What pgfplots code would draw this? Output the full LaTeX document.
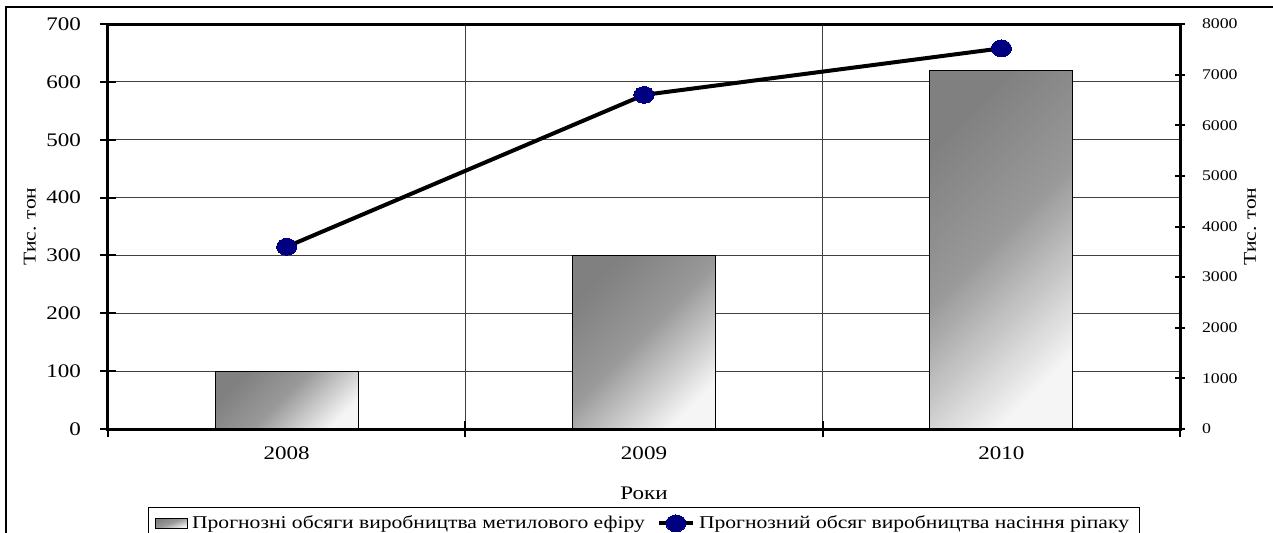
\documentclass[border=0pt]{standalone}
\usepackage{fontspec}
\setmainfont{Liberation Serif}[FakeStretch=1.2]
\usepackage{pgfplots}
\pgfplotsset{compat=1.18}
\definecolor{navy}{RGB}{0,0,128}
\pgfdeclareverticalshading{barshade}{100bp}{color(0bp)=(white!96!black); color(25bp)=(white!96!black); color(52bp)=(black!40); color(75bp)=(black!50); color(100bp)=(black!50)}
\begin{document}
\begin{tikzpicture}
\useasboundingbox (0,0) rectangle (636.5pt,266pt);
\draw[line width=0.8pt] (3pt,-5pt) -- (3pt,262.5pt) -- (640pt,262.5pt);
\begin{axis}[
  at={(54pt,51.5pt)}, anchor=south west,
  scale only axis, width=536pt, height=202.5pt,
  xmin=0.5, xmax=3.5, ymin=0, ymax=700,
  xtick pos=bottom, ytick pos=left,
  xtick={0.5,1.5,2.5,3.5}, xticklabels={,,,},
  extra x ticks={1,2,3}, extra x tick labels={2008,2009,2010},
  extra x tick style={grid=none, major tick length=0pt, tick style={draw=none}},
  xmajorgrids, ymajorgrids, grid style={black!75, line width=0.5pt},
  ytick distance=100,
  tick align=center, major tick length=8pt, tick style={black, line width=1pt},
  axis line style={line width=1.5pt},
  /pgf/number format/assume math mode=true,
  /pgf/number format/1000 sep={},
  yticklabel style={font=\fontsize{9.6}{11}\selectfont, anchor=east, xshift=-6pt},
  xticklabel style={font=\fontsize{9.6}{11}\selectfont, anchor=center, yshift=-12pt},
  xlabel={Роки},
  xlabel style={font=\fontsize{9.6}{11}\selectfont, at={(axis description cs:0.5,-0.158)}, anchor=center},
  ylabel={Тис. тон},
  ylabel style={font=\fontsize{9}{10}\selectfont, at={(axis description cs:-0.0728,0.5)}, anchor=center},
  barstyle/.style={ybar, bar width=0.4, draw=black, line width=0.6pt, shade, shading=barshade, shading angle=45},
]
\addplot[barstyle] coordinates {(1,100)};
\addplot[barstyle] coordinates {(2,300)};
\addplot[barstyle] coordinates {(3,620)};
\end{axis}
\begin{axis}[
  at={(54pt,51.5pt)}, anchor=south west,
  scale only axis, width=536pt, height=202.5pt,
  xmin=0.5, xmax=3.5, ymin=0, ymax=8000,
  axis y line*=right, axis x line=none,
  ytick distance=1000,
  tick align=center, major tick length=5pt, tick style={black, line width=1pt},
  axis line style={line width=1.5pt},
  /pgf/number format/assume math mode=true,
  /pgf/number format/1000 sep={},
  yticklabel style={font=\fontsize{7.4}{9}\selectfont, anchor=west, xshift=5pt},
  ylabel={Тис. тон},
  ylabel style={font=\fontsize{9}{10}\selectfont, at={(axis description cs:1.0653,0.5)}, anchor=center},
  legend columns=2,
  legend style={at={(0.5,0)}, anchor=north, yshift=-39pt, draw=black, font=\fontsize{9}{10}\selectfont, /tikz/every even column/.append style={column sep=4pt}},
]
\addlegendimage{legend image code/.code={\draw[black, line width=0.6pt, shade, shading=barshade, shading angle=20] (0pt,-2.5pt) rectangle (16pt,2.5pt);}}
\addlegendentry{Прогнозні обсяги виробництва метилового ефіру}
\addplot[black, line width=2pt, mark=*, mark size=4.2pt, mark options={fill=navy, draw=navy, xscale=1.2, line width=0pt}] coordinates {(1,3600) (2,6600) (3,7520)};
\addlegendentry{Прогнозний обсяг виробництва насіння ріпаку}
\end{axis}
\end{tikzpicture}
\end{document}
